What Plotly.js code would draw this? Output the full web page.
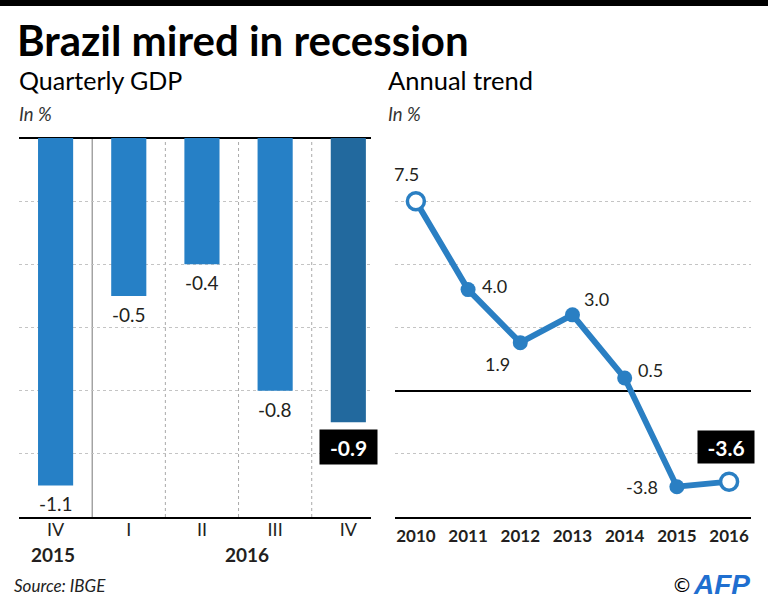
<!DOCTYPE html>
<html>
<head>
<meta charset="utf-8">
<script src="https://cdn.plot.ly/plotly-3.0.1.min.js"></script>
<style>html,body{margin:0;padding:0;background:#fff;}#chart{width:768px;height:614px;}</style>
</head>
<body>
<div id="chart"></div>
<script>
// ---- data ----
const quarterLabels = ['IV', 'I', 'II', 'III', 'IV'];
const quarterYears = ['2015', '2016'];
const quarterGDP = [-1.1, -0.5, -0.4, -0.8, -0.9];
const annualYears = [2010, 2011, 2012, 2013, 2014, 2015, 2016];
const annualGDP = [7.5, 4.0, 1.9, 3.0, 0.5, -3.8, -3.6];

// ---- style ----
const FONT = 'Lato, "Open Sans", sans-serif';
const BLUE = '#2680c6';
const DARKBLUE = '#22699e';
const LINEBLUE = '#2a7fc3';
const TXT = '#231f20';
const W = 768, H = 614;
const px = v => v / W;
const py = v => 1 - v / H;

const qIdx = quarterLabels.map((_, i) => i);
const barColors = quarterGDP.map((_, i) => i === quarterGDP.length - 1 ? DARKBLUE : BLUE);

const barTrace = {
  type: 'bar', x: qIdx, y: quarterGDP, width: 0.48,
  marker: {color: barColors}, xaxis: 'x', yaxis: 'y',
  hoverinfo: 'skip', showlegend: false
};

const n = annualYears.length;
const isEnd = annualYears.map((_, i) => i === 0 || i === n - 1);
const lineTrace = {
  type: 'scatter', mode: 'lines', x: annualYears, y: annualGDP,
  xaxis: 'x2', yaxis: 'y2',
  line: {color: LINEBLUE, width: 6},
  cliponaxis: false, hoverinfo: 'skip', showlegend: false
};
const markerTrace = {
  type: 'scatter', mode: 'markers', x: annualYears, y: annualGDP,
  xaxis: 'x2', yaxis: 'y2',
  marker: {
    size: isEnd.map(e => e ? 17 : 15),
    color: isEnd.map(e => e ? '#ffffff' : LINEBLUE),
    opacity: 1,
    line: {color: LINEBLUE, width: isEnd.map(e => e ? 3.5 : 0)}
  },
  cliponaxis: false, hoverinfo: 'skip', showlegend: false
};

const annotations = [];
// bar value labels
quarterGDP.forEach((v, i) => {
  const last = i === quarterGDP.length - 1;
  const a = {
    xref: 'x', yref: 'y', x: i, y: v, text: v.toFixed(1), showarrow: false,
    yanchor: 'top', yshift: last ? -7 : -5,
    font: {family: FONT, size: last ? 21 : 19, color: last ? '#ffffff' : TXT, weight: last ? 'bold' : 'normal'}
  };
  if (last) Object.assign(a, {bgcolor: '#000000', borderpad: 4, width: 49, height: 26});
  annotations.push(a);
});
// year group labels under quarters
const yearCenters = [-0.04, 2.62];
quarterYears.forEach((y, i) => {
  annotations.push({
    xref: 'x', yref: 'paper', x: yearCenters[i], y: py(554), yanchor: 'middle',
    text: y, showarrow: false, font: {family: FONT, size: 19, color: TXT, weight: 'bold'}
  });
});
// line value labels (offsets in px)
const lineOffsets = [[-9, 27], [26, 4], [-23, -21], [24, 16], [26, 8], [-35, 0], [-3, 35]];
annualGDP.forEach((v, i) => {
  const last = i === n - 1;
  const a = {
    xref: 'x2', yref: 'y2', x: annualYears[i], y: v, text: v.toFixed(1), showarrow: false,
    xshift: lineOffsets[i][0], yshift: lineOffsets[i][1],
    font: {family: FONT, size: last ? 21 : 18, color: last ? '#ffffff' : TXT, weight: last ? 'bold' : 'normal'}
  };
  if (last) Object.assign(a, {bgcolor: '#000000', borderpad: 4, width: 48, height: 24});
  annotations.push(a);
});
// titles and notes
annotations.push(
  {xref: 'paper', yref: 'paper', x: px(17), y: py(80), xanchor: 'left', yanchor: 'middle', showarrow: false,
   text: 'Quarterly GDP', font: {family: FONT, size: 25, color: '#000'}},
  {xref: 'paper', yref: 'paper', x: px(386), y: py(80), xanchor: 'left', yanchor: 'middle', showarrow: false,
   text: 'Annual trend', font: {family: FONT, size: 25.5, color: '#000'}},
  {xref: 'paper', yref: 'paper', x: px(17), y: py(114), xanchor: 'left', yanchor: 'middle', showarrow: false,
   text: '<i>In %</i>', font: {family: FONT, size: 18.5, color: '#333'}},
  {xref: 'paper', yref: 'paper', x: px(386), y: py(114), xanchor: 'left', yanchor: 'middle', showarrow: false,
   text: '<i>In %</i>', font: {family: FONT, size: 18.5, color: '#333'}},
  {xref: 'paper', yref: 'paper', x: px(12), y: py(585), xanchor: 'left', yanchor: 'middle', showarrow: false,
   text: '<i>Source: IBGE</i>', font: {family: FONT, size: 17, color: '#222'}},
  {xref: 'paper', yref: 'paper', x: px(694), y: py(585), xanchor: 'right', yanchor: 'middle', showarrow: false,
   text: '©', font: {family: 'DejaVu Sans', size: 20, color: '#000'}},
  {xref: 'paper', yref: 'paper', x: px(752), y: py(584), xanchor: 'right', yanchor: 'middle', showarrow: false,
   text: '<b><i>AFP</i></b>', font: {family: '"Liberation Sans", Arial, sans-serif', size: 28, color: '#1f6fd0'}}
);

const shapes = [
  // top black band
  {type: 'rect', xref: 'paper', yref: 'paper', x0: 0, x1: 1, y0: py(6), y1: 1, fillcolor: '#000', line: {width: 0}},
  // quarter separators
  {type: 'line', xref: 'x', yref: 'y domain', x0: 0.5, x1: 0.5, y0: 0, y1: 1, line: {color: '#777', width: 1}, layer: 'below'},
  ...[1.5, 2.5, 3.5].map(xv => ({type: 'line', xref: 'x', yref: 'y domain', x0: xv, x1: xv, y0: 0, y1: 1,
    line: {color: '#aaa', width: 1, dash: 'dot'}, layer: 'below'}))
];

const gridStyle = {showgrid: true, gridcolor: '#c4c4c4', griddash: 'dot', gridwidth: 1};

const layout = {
  width: W, height: H, margin: {l: 0, r: 0, t: 0, b: 0},
  paper_bgcolor: '#fff', plot_bgcolor: '#fff',
  title: {text: 'Brazil mired in recession', x: px(17), xanchor: 'left', y: py(41), yanchor: 'middle',
    xref: 'paper', yref: 'paper', font: {family: FONT, size: 42, color: '#000', weight: 'bold'}},
  xaxis: {domain: [px(19), px(371)], range: [-0.5, 4.31], tickmode: 'array', tickvals: qIdx, ticktext: quarterLabels,
    showgrid: false, zeroline: false, showline: true, linecolor: '#000', linewidth: 2, ticks: '',
    tickfont: {family: FONT, size: 18, color: TXT}, ticklabelstandoff: -5, fixedrange: true},
  yaxis: {domain: [py(517), py(138)], range: [-1.2, 0], dtick: 0.2, ...gridStyle, showticklabels: false,
    zeroline: true, zerolinecolor: '#000', zerolinewidth: 2, showline: false, fixedrange: true},
  xaxis2: {domain: [px(395), px(751)], range: [2009.6, 2016.42], tickmode: 'array', tickvals: annualYears,
    ticktext: annualYears.map(String), showgrid: false, zeroline: false, showline: true, linecolor: '#000', linewidth: 2,
    ticks: '', tickfont: {family: FONT, size: 17, color: TXT, weight: 'bold'}, ticklabelstandoff: 3, fixedrange: true},
  yaxis2: {domain: [py(517), py(138)], range: [-5, 10], dtick: 2.5, ...gridStyle, showticklabels: false,
    zeroline: true, zerolinecolor: '#000', zerolinewidth: 2, showline: false, anchor: 'x2', fixedrange: true},
  annotations: annotations, shapes: shapes, showlegend: false
};

Plotly.newPlot('chart', [barTrace, lineTrace, markerTrace], layout, {displayModeBar: false, staticPlot: true});
</script>
</body>
</html>
